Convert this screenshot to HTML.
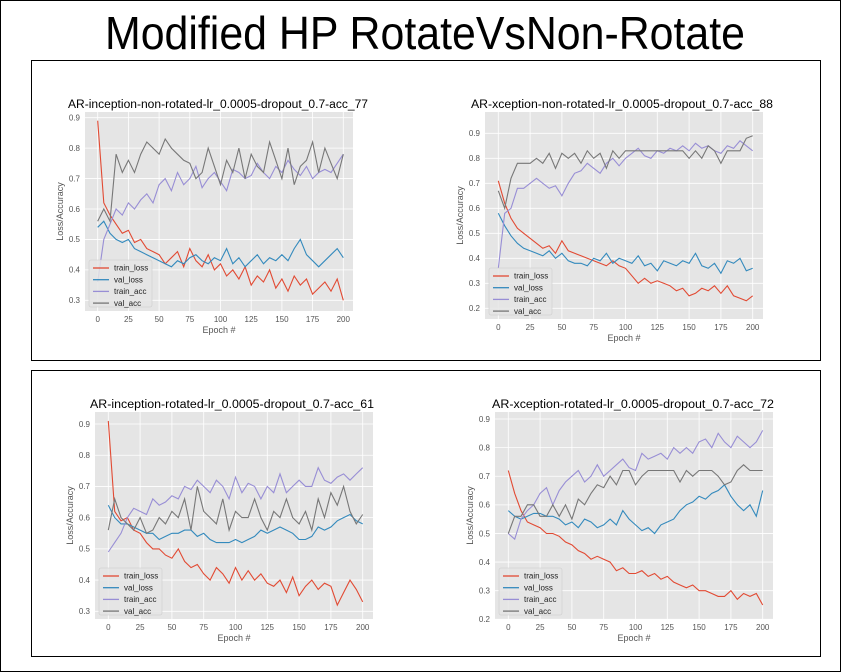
<!DOCTYPE html>
<html><head><meta charset="utf-8"><style>
html,body{margin:0;padding:0;background:#fff}
svg{display:block;font-family:"Liberation Sans",sans-serif}
</style></head><body>
<svg id="s" width="841" height="672" xmlns="http://www.w3.org/2000/svg">
<rect x="0.5" y="0.5" width="840" height="671" fill="#fff" stroke="#000"/>
<text x="425" y="49" text-anchor="middle" font-size="46" textLength="640" lengthAdjust="spacingAndGlyphs" fill="#000">Modified HP RotateVsNon-Rotate</text>
<rect x="31.5" y="60.5" width="789" height="300" fill="none" stroke="#000"/>
<rect x="31.5" y="370.5" width="789" height="286" fill="none" stroke="#000"/>
</svg>
<script>
const epochs=[];for(let e=0;e<=200;e+=5)epochs.push(e);
const xTicks=[0,25,50,75,100,125,150,175,200];
const seriesNames=["train_loss","val_loss","train_acc","val_acc"];
const c1TrainLoss=[0.89,0.62,0.58,0.55,0.52,0.53,0.49,0.5,0.47,0.46,0.45,0.42,0.44,0.46,0.41,0.47,0.43,0.41,0.45,0.4,0.42,0.38,0.4,0.37,0.41,0.35,0.38,0.36,0.4,0.34,0.37,0.33,0.38,0.35,0.37,0.32,0.34,0.36,0.33,0.37,0.3];
const c1ValLoss=[0.54,0.56,0.52,0.5,0.49,0.5,0.47,0.46,0.45,0.44,0.43,0.42,0.41,0.43,0.42,0.44,0.45,0.43,0.42,0.44,0.43,0.47,0.42,0.44,0.41,0.43,0.45,0.42,0.44,0.43,0.45,0.43,0.47,0.5,0.45,0.43,0.41,0.43,0.45,0.47,0.44];
const c1TrainAcc=[0.36,0.5,0.55,0.6,0.58,0.62,0.6,0.63,0.65,0.62,0.68,0.7,0.66,0.72,0.68,0.7,0.74,0.67,0.7,0.72,0.69,0.66,0.73,0.72,0.7,0.71,0.75,0.72,0.7,0.74,0.72,0.76,0.73,0.71,0.74,0.7,0.72,0.73,0.72,0.75,0.78];
const c1ValAcc=[0.56,0.6,0.56,0.78,0.72,0.76,0.72,0.78,0.82,0.8,0.78,0.83,0.8,0.78,0.76,0.75,0.7,0.72,0.8,0.74,0.68,0.76,0.72,0.8,0.7,0.78,0.74,0.72,0.82,0.76,0.7,0.8,0.68,0.74,0.76,0.82,0.72,0.8,0.75,0.7,0.78];
const c2TrainLoss=[0.71,0.62,0.56,0.52,0.5,0.48,0.46,0.44,0.45,0.42,0.47,0.43,0.42,0.41,0.4,0.39,0.38,0.37,0.39,0.37,0.36,0.33,0.3,0.32,0.3,0.31,0.3,0.29,0.27,0.28,0.25,0.26,0.28,0.27,0.29,0.26,0.29,0.25,0.24,0.23,0.25];
const c2ValLoss=[0.58,0.53,0.49,0.46,0.44,0.43,0.42,0.41,0.43,0.4,0.42,0.39,0.38,0.38,0.37,0.4,0.39,0.42,0.38,0.4,0.39,0.38,0.41,0.37,0.38,0.35,0.39,0.38,0.37,0.39,0.38,0.42,0.37,0.36,0.38,0.34,0.39,0.38,0.4,0.35,0.36];
const c2TrainAcc=[0.36,0.58,0.6,0.68,0.68,0.7,0.72,0.7,0.68,0.69,0.65,0.7,0.74,0.75,0.78,0.76,0.74,0.78,0.8,0.77,0.8,0.82,0.84,0.81,0.8,0.83,0.82,0.84,0.83,0.85,0.83,0.86,0.84,0.85,0.83,0.82,0.85,0.84,0.87,0.85,0.83];
const c2ValAcc=[0.67,0.6,0.72,0.78,0.78,0.78,0.8,0.78,0.82,0.76,0.82,0.8,0.82,0.78,0.83,0.8,0.82,0.76,0.83,0.8,0.83,0.83,0.83,0.83,0.83,0.83,0.83,0.83,0.83,0.83,0.8,0.83,0.8,0.85,0.83,0.78,0.83,0.83,0.83,0.88,0.89];
const c3TrainLoss=[0.91,0.62,0.59,0.6,0.56,0.55,0.52,0.5,0.5,0.48,0.47,0.5,0.46,0.44,0.45,0.42,0.4,0.44,0.42,0.39,0.44,0.4,0.43,0.4,0.42,0.39,0.38,0.4,0.36,0.41,0.35,0.38,0.4,0.37,0.39,0.38,0.32,0.36,0.4,0.37,0.33];
const c3ValLoss=[0.64,0.6,0.58,0.58,0.57,0.56,0.55,0.55,0.53,0.54,0.55,0.55,0.56,0.56,0.54,0.55,0.53,0.52,0.52,0.52,0.53,0.52,0.53,0.54,0.56,0.55,0.56,0.57,0.56,0.55,0.53,0.53,0.54,0.57,0.56,0.57,0.59,0.6,0.61,0.59,0.58];
const c3TrainAcc=[0.49,0.52,0.55,0.6,0.63,0.62,0.61,0.66,0.64,0.65,0.67,0.66,0.7,0.69,0.72,0.7,0.68,0.72,0.7,0.66,0.73,0.68,0.71,0.7,0.66,0.7,0.68,0.74,0.68,0.7,0.72,0.7,0.7,0.76,0.72,0.71,0.73,0.74,0.72,0.74,0.76];
const c3ValAcc=[0.56,0.66,0.6,0.58,0.56,0.6,0.55,0.56,0.6,0.58,0.62,0.6,0.66,0.56,0.7,0.62,0.6,0.58,0.66,0.56,0.62,0.6,0.6,0.66,0.6,0.56,0.62,0.6,0.66,0.6,0.58,0.62,0.56,0.66,0.6,0.68,0.64,0.7,0.62,0.58,0.61];
const c4TrainLoss=[0.72,0.64,0.58,0.54,0.53,0.52,0.5,0.5,0.49,0.47,0.46,0.44,0.43,0.41,0.42,0.41,0.4,0.37,0.38,0.36,0.36,0.37,0.35,0.36,0.34,0.35,0.33,0.32,0.31,0.32,0.3,0.3,0.29,0.28,0.28,0.3,0.27,0.29,0.28,0.29,0.25];
const c4ValLoss=[0.58,0.56,0.55,0.56,0.57,0.57,0.56,0.56,0.55,0.53,0.54,0.52,0.55,0.54,0.52,0.53,0.55,0.53,0.58,0.55,0.53,0.51,0.52,0.5,0.53,0.54,0.55,0.58,0.6,0.61,0.63,0.62,0.64,0.65,0.67,0.63,0.6,0.58,0.6,0.56,0.65];
const c4TrainAcc=[0.5,0.48,0.55,0.58,0.6,0.64,0.66,0.6,0.65,0.68,0.7,0.72,0.68,0.7,0.74,0.7,0.72,0.74,0.76,0.73,0.72,0.78,0.76,0.77,0.78,0.76,0.8,0.78,0.8,0.78,0.82,0.83,0.8,0.85,0.82,0.8,0.84,0.82,0.8,0.82,0.86];
const c4ValAcc=[0.5,0.56,0.56,0.6,0.6,0.56,0.56,0.6,0.56,0.6,0.55,0.62,0.6,0.64,0.67,0.66,0.7,0.67,0.72,0.72,0.67,0.7,0.72,0.72,0.72,0.72,0.72,0.68,0.72,0.7,0.72,0.72,0.72,0.7,0.67,0.68,0.72,0.74,0.72,0.72,0.72];
const yTicksA=[0.3,0.4,0.5,0.6,0.7,0.8,0.9];
const yTicksB=[0.2,0.3,0.4,0.5,0.6,0.7,0.8,0.9];
const colors=["#E24A33","#348ABD","#988ED5","#777777"];
const charts=[
 {name:"inception-non-rotated",title:"AR-inception-non-rotated-lr_0.0005-dropout_0.7-acc_77",box:[85,112,353,311],x0:97.7,x1:343.3,yv0:0.3,yp0:300.3,yv1:0.9,yp1:117.7,yt:yTicksA,s:[c1TrainLoss,c1ValLoss,c1TrainAcc,c1ValAcc],tx:218,tw:300},
 {name:"xception-non-rotated",title:"AR-xception-non-rotated-lr_0.0005-dropout_0.7-acc_88",box:[485,112,763,319],x0:498.3,x1:752.7,yv0:0.2,yp0:308.3,yv1:0.9,yp1:133.3,yt:yTicksB,s:[c2TrainLoss,c2ValLoss,c2TrainAcc,c2ValAcc],tx:622,tw:302},
 {name:"inception-rotated",title:"AR-inception-rotated-lr_0.0005-dropout_0.7-acc_61",box:[95,412,373,619],x0:108.3,x1:362.7,yv0:0.3,yp0:611.3,yv1:0.9,yp1:424,yt:yTicksA,s:[c3TrainLoss,c3ValLoss,c3TrainAcc,c3ValAcc],tx:232,tw:284},
 {name:"xception-rotated",title:"AR-xception-rotated-lr_0.0005-dropout_0.7-acc_72",box:[495,412,773,619],x0:508.3,x1:762.7,yv0:0.2,yp0:619.3,yv1:0.9,yp1:419,yt:yTicksB,s:[c4TrainLoss,c4ValLoss,c4TrainAcc,c4ValAcc],tx:633,tw:282}
];
const svg=document.getElementById('s');const NS="http://www.w3.org/2000/svg";
function mk(t,a,p){const e=document.createElementNS(NS,t);for(const k in a)e.setAttribute(k,a[k]);(p||svg).appendChild(e);return e;}
charts.forEach(c=>{
 const g=mk('g',{});
 
 
 const X=v=>c.x0+(v-0)*(c.x1-c.x0)/200;
 const Y=v=>c.yp0+(v-c.yv0)*(c.yp1-c.yp0)/(c.yv1-c.yv0);
 const [l,t,r,b]=c.box;
 const bg=mk('rect',{x:l,y:t,width:r-l,height:b-t,fill:'#E5E5E5'},g);
 
 
 xTicks.forEach(v=>{mk('line',{x1:X(v),x2:X(v),y1:t,y2:b,stroke:'#fff','stroke-width':0.8},g);
  const tl=mk('text',{x:X(v),y:b+11,'font-size':8,fill:'#555','text-anchor':'middle'},g);tl.textContent=v;
  
  });
 c.yt.forEach(v=>{mk('line',{x1:l,x2:r,y1:Y(v),y2:Y(v),stroke:'#fff','stroke-width':0.8},g);
  const tl=mk('text',{x:l-5,y:Y(v)+2.8,'font-size':8,fill:'#555','text-anchor':'end'},g);tl.textContent=v.toFixed(1);
  
  });
 c.s.forEach((arr,i)=>{
  const d=arr.map((v,k)=>(k?'L':'M')+X(epochs[k]).toFixed(1)+','+Y(v).toFixed(1)).join('');
  const p=mk('path',{d:d,fill:'none',stroke:colors[i],'stroke-width':1.1},g);
  
  
 });
 const tt=mk('text',{x:c.tx,y:t-4,'font-size':11.5,fill:'#000','text-anchor':'middle',textLength:c.tw,lengthAdjust:'spacingAndGlyphs'},g);tt.textContent=c.title;
 
 
 const xl=mk('text',{x:(l+r)/2,y:b+22,'font-size':9,fill:'#555','text-anchor':'middle'},g);xl.textContent='Epoch #';
 
 
 const yx=l-22,yy=(t+b)/2;
 const yl=mk('text',{x:yx,y:yy,'font-size':9,fill:'#555','text-anchor':'middle',transform:`rotate(-90 ${yx} ${yy})`},g);yl.textContent='Loss/Accuracy';
 
 
 const lg=mk('g',{},g);
 
 
 const lx=l+4,ly=b-51;
 mk('rect',{x:lx,y:ly,width:63,height:47,fill:'#E5E5E5','fill-opacity':0.85,stroke:'#ccc','stroke-width':0.6,rx:2},lg);
 seriesNames.forEach((n,i)=>{const yy2=ly+8+i*11.7;
  mk('line',{x1:lx+4,x2:lx+20,y1:yy2,y2:yy2,stroke:colors[i],'stroke-width':1.3},lg);
  const tx=mk('text',{x:lx+25,y:yy2+2.7,'font-size':8,fill:'#222'},lg);tx.textContent=n;
  
  });
});
</script>
</body></html>
